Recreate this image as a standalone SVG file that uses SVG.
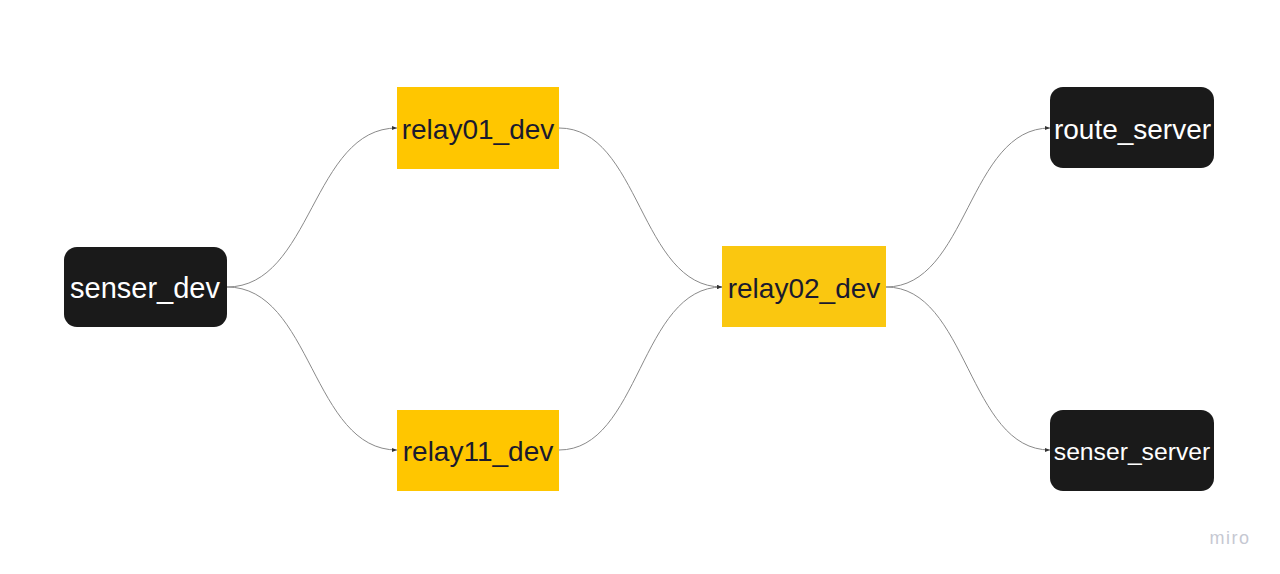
<svg xmlns="http://www.w3.org/2000/svg" width="1280" height="574" viewBox="0 0 1280 574">
<style>
.dark{fill:#1a1a1a;}
.y1{fill:#ffc600;}
.y2{fill:#fac710;}
.lt{font-family:"Liberation Sans",Arial,sans-serif;fill:#ffffff;text-anchor:middle;dominant-baseline:central;}
.dt{font-family:"Liberation Sans",Arial,sans-serif;fill:#1a1a2e;text-anchor:middle;dominant-baseline:central;}
.c{fill:none;stroke:#8a8a8a;stroke-width:1;marker-end:url(#ah);}
</style>
<defs>
<marker id="ah" markerWidth="6" markerHeight="6" refX="5" refY="3" orient="auto" markerUnits="userSpaceOnUse">
<path d="M0,1 L5,3 L0,5 z" fill="#333"/>
</marker>
</defs>
<rect width="1280" height="574" fill="#ffffff"/>
<g id="connectors">
<path class="c" d="M227,287 C312,287 312,128 397,128"/>
<path class="c" d="M227,287 C312,287 312,450 397,450"/>
<path class="c" d="M559,128 C640,128 640,287 722,287"/>
<path class="c" d="M559,450 C640,450 640,287 722,287"/>
<path class="c" d="M886,287 C968,287 968,128 1050,128"/>
<path class="c" d="M886,287 C968,287 968,450 1050,450"/>
</g>
<g id="senser_dev">
<rect class="dark" x="64" y="247" width="163" height="80" rx="13"/>
<text class="lt" x="145" y="288" font-size="29">senser_dev</text>
</g>
<g id="relay01_dev">
<rect class="y1" x="397" y="87" width="162" height="82"/>
<text class="dt" x="478" y="129" font-size="28">relay01_dev</text>
</g>
<g id="relay11_dev">
<rect class="y1" x="397" y="410" width="162" height="81"/>
<text class="dt" x="478" y="451" font-size="28">relay11_dev</text>
</g>
<g id="relay02_dev">
<rect class="y2" x="722" y="246" width="164" height="81"/>
<text class="dt" x="804" y="288" font-size="28">relay02_dev</text>
</g>
<g id="route_server">
<rect class="dark" x="1050" y="87" width="164" height="81" rx="13"/>
<text class="lt" x="1132.5" y="129" font-size="28">route_server</text>
</g>
<g id="senser_server">
<rect class="dark" x="1050" y="410" width="164" height="81" rx="13"/>
<text class="lt" x="1132" y="451" font-size="24.7">senser_server</text>
</g>
<text x="1230" y="544" font-family="Liberation Sans,Arial,sans-serif" font-size="18" fill="#c6c8d2" text-anchor="middle" letter-spacing="1.5">miro</text>
</svg>
